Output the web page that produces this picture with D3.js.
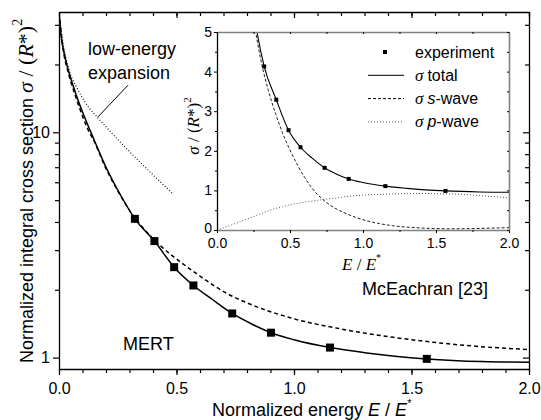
<!DOCTYPE html>
<html>
<head>
<meta charset="utf-8">
<script src="https://cdn.jsdelivr.net/npm/d3@7"></script>
<style>
  body { margin: 0; background: #fff; }
  svg { display: block; }
</style>
</head>
<body>
<svg id="chart" width="541" height="420"></svg>
<script>
// experiment (squares)
const expEnergy = [0.323, 0.406, 0.49, 0.572, 0.737, 0.902, 1.153, 1.565];
const expSigma = [4.13, 3.29, 2.52, 2.09, 1.57, 1.29, 1.108, 0.987];

// MERT total (solid)
const totalEnergy = [0, 0.01, 0.02, 0.04, 0.07, 0.1, 0.14, 0.2, 0.26, 0.323, 0.406, 0.49, 0.572, 0.65, 0.737, 0.82, 0.902, 1.0, 1.153, 1.3, 1.565, 1.8, 2.0];
const totalSigma = [33.9, 26.3, 22.9, 18.8, 15.0, 12.3, 9.77, 7.0, 5.31, 4.13, 3.29, 2.52, 2.09, 1.82, 1.57, 1.41, 1.29, 1.2, 1.108, 1.052, 0.987, 0.96, 0.953];

// McEachran [23] (dashed, main plot)
const mceEnergy = [0, 0.02, 0.04, 0.07, 0.1, 0.125, 0.15, 0.2, 0.25, 0.3, 0.35, 0.43, 0.529, 0.6, 0.713, 0.8, 0.997, 1.2, 1.423, 1.7, 2.0];
const mceSigma = [33.9, 22.5, 18.3, 14.5, 11.8, 10.2, 9.1, 6.9, 5.5, 4.5, 3.85, 3.15, 2.6, 2.3, 1.93, 1.75, 1.49, 1.34, 1.23, 1.14, 1.085];

// low-energy expansion (dotted, main plot)
const lowEnergy = [0, 0.01, 0.02, 0.033, 0.05, 0.075, 0.1, 0.125, 0.146, 0.175, 0.217, 0.25, 0.288, 0.35, 0.42, 0.486];
const lowSigma = [33.9, 28.2, 24.0, 20.65, 17.99, 15.85, 14.19, 12.97, 12.22, 11.3, 10.12, 9.29, 8.45, 7.28, 6.18, 5.32];

// inset partial waves
const sWaveEnergy = [0.1, 0.15, 0.2, 0.25, 0.3, 0.35, 0.4, 0.45, 0.5, 0.55, 0.6, 0.65, 0.725, 0.8, 0.9, 1.0, 1.1, 1.2, 1.4, 1.6, 1.8, 2.0];
const sWaveSigma = [12.1, 9.4, 7.2, 5.4, 4.3, 3.55, 2.95, 2.44, 2.02, 1.65, 1.33, 1.06, 0.77, 0.57, 0.39, 0.26, 0.17, 0.11, 0.05, 0.03, 0.04, 0.06];
const pWaveEnergy = [0, 0.1, 0.2, 0.3, 0.363, 0.45, 0.55, 0.65, 0.725, 0.8, 0.9, 1.0, 1.2, 1.4, 1.6, 1.8, 2.0];
const pWaveSigma = [0, 0.13, 0.27, 0.41, 0.5, 0.59, 0.67, 0.73, 0.77, 0.8, 0.85, 0.88, 0.91, 0.92, 0.91, 0.87, 0.81];

// ticks
const xMajor = [0, 0.5, 1, 1.5, 2];
const xMinor = d3.range(0, 21).map(i => i / 10);
const yMajor = [1, 10];
const yMinor = [2, 3, 4, 5, 6, 7, 8, 9, 20, 30];
const insetXMajor = [0, 0.5, 1, 1.5, 2];
const insetXMinor = [0.25, 0.75, 1.25, 1.75];
const insetYMajor = [0, 1, 2, 3, 4, 5];
const insetYMinor = [0.5, 1.5, 2.5, 3.5, 4.5];

// annotation pointer for "low-energy expansion"
const pointerEnergy = [0.294, 0.166];
const pointerSigma = [16.2, 11.7];

const SANS = "'Liberation Sans', Arial, sans-serif";
const SERIF = "'Liberation Serif', 'DejaVu Serif', 'Times New Roman', serif";
const svg = d3.select('#chart').attr('font-family', SANS);

const main = {left: 59, right: 529, top: 12, bottom: 369};
const x = d3.scaleLinear().domain([0, 2]).range([main.left, main.right]);
const y = d3.scaleLog().domain([0.89, 34.2]).range([main.bottom, main.top]);

const inset = {left: 217, right: 509, top: 32, bottom: 230};
const xi = d3.scaleLinear().domain([0, 2]).range([inset.left, inset.right]);
const yi = d3.scaleLinear().domain([0, 5]).range([inset.bottom, inset.top]);

const defs = svg.append('defs');
defs.append('clipPath').attr('id', 'clip-main').append('rect')
  .attr('x', main.left).attr('y', main.top)
  .attr('width', main.right - main.left).attr('height', main.bottom - main.top);
defs.append('clipPath').attr('id', 'clip-inset').append('rect')
  .attr('x', inset.left).attr('y', inset.top)
  .attr('width', inset.right - inset.left).attr('height', inset.bottom - inset.top);

function addAxis(axis, transform, opts) {
  const g = svg.append('g')
    .attr('transform', transform)
    .call(axis);
  g.attr('font-size', opts.fontSize || 16)
    .attr('font-family', SANS);
  g.selectAll('.tick line').attr('stroke', '#000').attr('stroke-width', opts.tickWidth || 1.2);
  if (opts.domainColor) {
    g.select('.domain').attr('stroke', opts.domainColor).attr('stroke-width', opts.domainWidth || 1.3);
  } else {
    g.select('.domain').remove();
  }
  return g;
}

// ----- main plot axes -----
const fmt1 = d3.format('.1f');
addAxis(d3.axisBottom(x).tickValues(xMajor).tickFormat(fmt1).tickSizeInner(6).tickSizeOuter(0).tickPadding(8),
  `translate(0,${main.bottom})`, {domainColor: '#000'});
addAxis(d3.axisBottom(x).tickValues(xMinor).tickFormat('').tickSize(4), `translate(0,${main.bottom})`, {});
addAxis(d3.axisTop(x).tickValues(xMajor).tickFormat('').tickSizeInner(-6).tickSizeOuter(0),
  `translate(0,${main.top})`, {domainColor: '#000'});
addAxis(d3.axisTop(x).tickValues(xMinor).tickFormat('').tickSize(-4), `translate(0,${main.top})`, {});

addAxis(d3.axisLeft(y).tickValues(yMajor).tickFormat(d3.format('d')).tickSizeInner(6).tickSizeOuter(0).tickPadding(3),
  `translate(${main.left},0)`, {domainColor: '#000'});
addAxis(d3.axisLeft(y).tickValues(yMinor).tickFormat('').tickSize(4), `translate(${main.left},0)`, {});
addAxis(d3.axisRight(y).tickValues(yMajor).tickFormat('').tickSizeInner(-6).tickSizeOuter(0),
  `translate(${main.right},0)`, {domainColor: '#000'});
addAxis(d3.axisRight(y).tickValues(yMinor).tickFormat('').tickSize(-4), `translate(${main.right},0)`, {});

// ----- main plot curves -----
const mainLine = d3.line()
  .x(d => x(d[0]))
  .y(d => y(d[1]))
  .curve(d3.curveMonotoneX);

const mainCurves = svg.append('g').attr('clip-path', 'url(#clip-main)');

mainCurves.append('path')
  .datum(d3.zip(lowEnergy, lowSigma))
  .attr('d', mainLine)
  .attr('fill', 'none').attr('stroke', '#000')
  .attr('stroke-width', 1.1).attr('stroke-dasharray', '1,2');

mainCurves.append('path')
  .datum(d3.zip(mceEnergy, mceSigma))
  .attr('d', mainLine)
  .attr('fill', 'none').attr('stroke', '#000')
  .attr('stroke-width', 1.5).attr('stroke-dasharray', '4,3');

mainCurves.append('path')
  .datum(d3.zip(totalEnergy, totalSigma))
  .attr('d', mainLine)
  .attr('fill', 'none').attr('stroke', '#000')
  .attr('stroke-width', 1.5);

const bigSquare = 8;
mainCurves.selectAll('rect.exp')
  .data(d3.zip(expEnergy, expSigma))
  .join('rect')
  .attr('class', 'exp')
  .attr('x', d => x(d[0]) - bigSquare / 2)
  .attr('y', d => y(d[1]) - bigSquare / 2)
  .attr('width', bigSquare).attr('height', bigSquare)
  .attr('fill', '#000');

// pointer line
svg.append('path')
  .datum(d3.zip(pointerEnergy, pointerSigma))
  .attr('d', d3.line().x(d => x(d[0])).y(d => y(d[1])))
  .attr('stroke', '#000').attr('stroke-width', 1);

// ----- main text -----
svg.append('text').attr('x', 88).attr('y', 55).attr('font-size', 18).text('low-energy');
svg.append('text').attr('x', 88).attr('y', 79).attr('font-size', 18).text('expansion');
svg.append('text').attr('x', 123).attr('y', 350).attr('font-size', 18).text('MERT');
svg.append('text').attr('x', 362).attr('y', 295).attr('font-size', 18).text('McEachran [23]');

const xTitle = svg.append('text').attr('x', 212).attr('y', 416).attr('font-size', 18);
xTitle.append('tspan').text('Normalized energy ');
xTitle.append('tspan').attr('font-style', 'italic').text('E');
xTitle.append('tspan').text(' / ');
xTitle.append('tspan').attr('font-style', 'italic').text('E');
xTitle.append('tspan').attr('font-size', 11).attr('dy', -9).text('*');

const yTitle = svg.append('text')
  .attr('transform', 'translate(33,363) rotate(-90)')
  .attr('font-size', 18);
yTitle.append('tspan').text('Normalized integral cross section ');
const yTitleMath = [
  {t: 'σ', italic: true}, {t: ' / ('}, {t: 'R', italic: true}, {t: '*)'}
];
yTitleMath.forEach(p => {
  yTitle.append('tspan')
    .attr('font-family', SERIF).attr('font-size', 22)
    .attr('font-style', p.italic ? 'italic' : 'normal')
    .text(p.t);
});
yTitle.append('tspan').attr('font-family', SERIF).attr('font-size', 14).attr('dy', -11).text('2');

// ----- inset -----
svg.append('rect')
  .attr('x', inset.left).attr('y', inset.top)
  .attr('width', inset.right - inset.left).attr('height', inset.bottom - inset.top)
  .attr('fill', '#fff');

const insetCurves = svg.append('g').attr('clip-path', 'url(#clip-inset)');
const insetLine = d3.line()
  .x(d => xi(d[0]))
  .y(d => yi(d[1]))
  .curve(d3.curveMonotoneX);

insetCurves.append('path')
  .datum(d3.zip(pWaveEnergy, pWaveSigma))
  .attr('d', insetLine)
  .attr('fill', 'none').attr('stroke', '#555')
  .attr('stroke-width', 1).attr('stroke-dasharray', '1,2');

insetCurves.append('path')
  .datum(d3.zip(sWaveEnergy, sWaveSigma))
  .attr('d', insetLine)
  .attr('fill', 'none').attr('stroke', '#222')
  .attr('stroke-width', 1).attr('stroke-dasharray', '3,2');

insetCurves.append('path')
  .datum(d3.zip(totalEnergy, totalSigma))
  .attr('d', insetLine)
  .attr('fill', 'none').attr('stroke', '#000')
  .attr('stroke-width', 1.1);

const smallSquare = 4;
insetCurves.selectAll('rect.exp')
  .data(d3.zip(expEnergy, expSigma))
  .join('rect')
  .attr('class', 'exp')
  .attr('x', d => xi(d[0]) - smallSquare / 2)
  .attr('y', d => yi(d[1]) - smallSquare / 2)
  .attr('width', smallSquare).attr('height', smallSquare)
  .attr('fill', '#000');

// inset axes
addAxis(d3.axisBottom(xi).tickValues(insetXMajor).tickFormat(fmt1).tickSizeInner(3).tickSizeOuter(0).tickPadding(5),
  `translate(0,${inset.bottom})`, {domainColor: '#808080', domainWidth: 1.6, fontSize: 14, tickWidth: 1});
addAxis(d3.axisBottom(xi).tickValues(insetXMinor).tickFormat('').tickSize(2),
  `translate(0,${inset.bottom})`, {tickWidth: 1});
addAxis(d3.axisTop(xi).tickValues(insetXMajor.concat(insetXMinor)).tickFormat('').tickSizeInner(-2).tickSizeOuter(0),
  `translate(0,${inset.top})`, {domainColor: '#808080', domainWidth: 1.6, tickWidth: 1});
const insetLeft = addAxis(d3.axisLeft(yi).tickValues(insetYMajor).tickFormat(d3.format('d')).tickSizeInner(3).tickSizeOuter(0).tickPadding(2),
  `translate(${inset.left},0)`, {domainColor: '#000', domainWidth: 1.3, fontSize: 14, tickWidth: 1});
// lift the "0" label a little so it clears the "0.0" below
insetLeft.selectAll('.tick text').filter(d => d === 0).attr('dy', '0.15em');
addAxis(d3.axisLeft(yi).tickValues(insetYMinor).tickFormat('').tickSize(2),
  `translate(${inset.left},0)`, {tickWidth: 1});
addAxis(d3.axisRight(yi).tickValues(insetYMajor.concat(insetYMinor)).tickFormat('').tickSizeInner(-2).tickSizeOuter(0),
  `translate(${inset.right},0)`, {domainColor: '#808080', domainWidth: 1.6, tickWidth: 1});

// inset titles
const insetXTitle = svg.append('text').attr('x', 342).attr('y', 270)
  .attr('font-family', SERIF).attr('font-size', 17);
insetXTitle.append('tspan').attr('font-style', 'italic').text('E');
insetXTitle.append('tspan').text(' / ');
insetXTitle.append('tspan').attr('font-style', 'italic').text('E');
insetXTitle.append('tspan').attr('font-size', 10).attr('dy', -9).text('*');

const insetYTitle = svg.append('text')
  .attr('transform', 'translate(199,126) rotate(-90)')
  .attr('text-anchor', 'middle')
  .attr('font-family', SERIF).attr('font-size', 17);
insetYTitle.append('tspan').attr('font-style', 'italic').text('σ');
insetYTitle.append('tspan').text(' / (');
insetYTitle.append('tspan').attr('font-style', 'italic').text('R');
insetYTitle.append('tspan').text('*)');
insetYTitle.append('tspan').attr('font-size', 11).attr('dy', -8).text('2');

// legend
const legend = svg.append('g');
const legendRows = [
  {kind: 'marker', sigma: false, text: 'experiment'},
  {kind: 'solid', sigma: true, pre: 'total'},
  {kind: 'dashed', sigma: true, italic: 's', rest: '-wave'},
  {kind: 'dotted', sigma: true, italic: 'p', rest: '-wave'}
];
legendRows.forEach((row, i) => {
  const cy = 52 + i * 23.3;
  if (row.kind === 'marker') {
    legend.append('rect').attr('x', 385 - 2).attr('y', cy - 2).attr('width', 4).attr('height', 4).attr('fill', '#000');
  } else {
    legend.append('line')
      .attr('x1', 368).attr('x2', 404).attr('y1', cy).attr('y2', cy)
      .attr('stroke', row.kind === 'dotted' ? '#555' : '#000')
      .attr('stroke-width', 1)
      .attr('stroke-dasharray', row.kind === 'dashed' ? '3,2' : row.kind === 'dotted' ? '1,2' : null);
  }
  const t = legend.append('text').attr('x', 415).attr('y', cy + 5.5).attr('font-size', 16);
  if (!row.sigma) {
    t.text(row.text);
    return;
  }
  t.append('tspan').attr('font-family', SERIF).attr('font-style', 'italic').attr('font-size', 17).text('σ');
  if (row.pre) {
    t.append('tspan').attr('dx', 4).text(row.pre);
  } else {
    t.append('tspan').attr('dx', 4).attr('font-style', 'italic').text(row.italic);
    t.append('tspan').text(row.rest);
  }
});
</script>
</body>
</html>
